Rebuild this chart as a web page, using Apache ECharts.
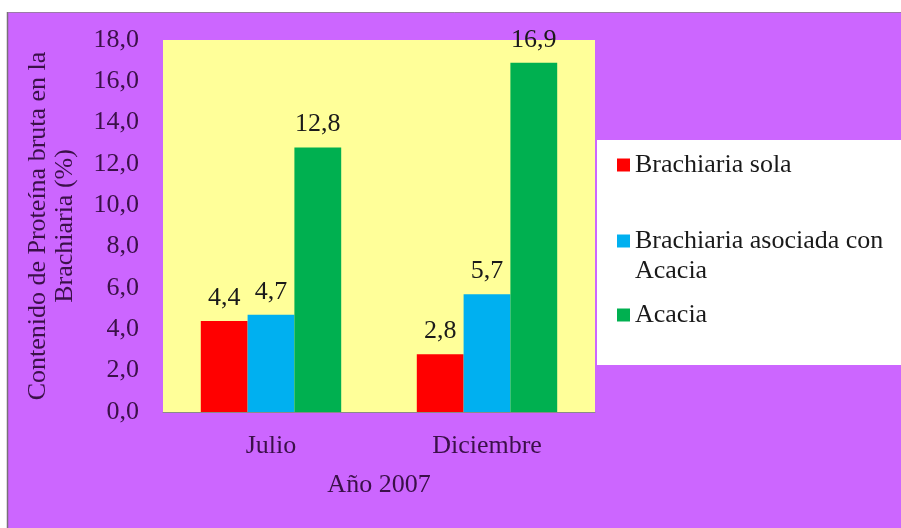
<!DOCTYPE html>
<html>
<head>
<meta charset="utf-8">
<script src="https://cdn.jsdelivr.net/npm/echarts@6/dist/echarts.min.js"></script>
<style>html,body{margin:0;padding:0;background:#fff;}#c{width:901px;height:528px;}</style>
</head>
<body>
<div id="c"></div>
<script>
const categories = ['Julio', 'Diciembre'];
const seriesNames = ['Brachiaria sola', 'Brachiaria asociada con Acacia', 'Acacia'];
const brachiariaSola = [4.4, 2.8];
const brachiariaAsociada = [4.7, 5.7];
const acacia = [12.8, 16.9];
const yTicks = { min: 0, max: 18, interval: 2 };

const FONT = 'Liberation Serif';
const FS = 26;
const AXC = '#3a1048';
const fmt = v => Number(v).toFixed(1).replace('.', ',');
const colors = ['#FF0000', '#00B0F0', '#00B050'];
const values = [brachiariaSola, brachiariaAsociada, acacia];

const chart = echarts.init(document.getElementById('c'), null, { renderer: 'canvas' });
chart.setOption({
  backgroundColor: '#ffffff',
  animation: false,
  graphic: [
    { type: 'rect', left: 8, top: 12, shape: { width: 893, height: 516 }, style: { fill: '#CC66FF' }, z: -10 },
    { type: 'line', shape: { x1: 7.5, y1: 12, x2: 7.5, y2: 528 }, style: { stroke: '#7a6f7a', lineWidth: 1.5 }, z: -9 },
    { type: 'line', shape: { x1: 8, y1: 12.5, x2: 901, y2: 12.5 }, style: { stroke: '#9b7aa8', lineWidth: 1 }, z: -9 },
    { type: 'rect', left: 597, top: 140, shape: { width: 304, height: 225 }, style: { fill: '#ffffff' }, z: -5 }
  ],
  grid: {
    left: 163, top: 40, right: 306, bottom: 116,
    show: true, backgroundColor: '#FFFF99', borderWidth: 0
  },
  legend: [
    { data: [seriesNames[0]], orient: 'vertical', left: 612, top: 146, itemWidth: 13, itemHeight: 13,
      textStyle: { fontFamily: FONT, fontSize: FS, color: '#1a1a1a', lineHeight: 28 }, icon: 'rect' },
    { data: [seriesNames[1]], orient: 'vertical', left: 612, top: 191, itemWidth: 13, itemHeight: 13,
      formatter: () => '\nBrachiaria asociada con\nAcacia',
      textStyle: { fontFamily: FONT, fontSize: FS, color: '#1a1a1a', lineHeight: 30 }, icon: 'rect' },
    { data: [seriesNames[2]], orient: 'vertical', left: 612, top: 296, itemWidth: 13, itemHeight: 13,
      textStyle: { fontFamily: FONT, fontSize: FS, color: '#1a1a1a', lineHeight: 28 }, icon: 'rect' }
  ],
  xAxis: {
    type: 'category',
    data: categories,
    name: 'Año 2007',
    nameLocation: 'middle',
    nameGap: 60,
    nameTextStyle: { fontFamily: FONT, fontSize: FS, color: AXC },
    axisLine: { lineStyle: { color: '#8a8a8a', width: 1 } },
    axisTick: { show: false },
    axisLabel: { fontFamily: FONT, fontSize: FS, color: AXC, margin: 21 }
  },
  yAxis: {
    type: 'value',
    min: yTicks.min, max: yTicks.max, interval: yTicks.interval,
    name: 'Contenido de Proteína bruta en la\nBrachiaria (%)',
    nameLocation: 'middle',
    nameGap: 84,
    nameRotate: 90,
    nameTextStyle: { fontFamily: FONT, fontSize: FS, color: AXC, lineHeight: 27, align: 'center' },
    axisLine: { show: false },
    axisTick: { show: false },
    splitLine: { show: false },
    axisLabel: { fontFamily: FONT, fontSize: FS, color: AXC, margin: 24, formatter: v => fmt(v) }
  },
  series: values.map((vals, i) => ({
    name: seriesNames[i],
    type: 'bar',
    data: vals,
    barGap: '0%',
    barCategoryGap: '35%',
    itemStyle: { color: colors[i] },
    label: {
      show: true, position: 'top', distance: 10,
      fontFamily: FONT, fontSize: FS, color: '#1a1a1a',
      formatter: p => fmt(p.value)
    }
  }))
});
</script>
</body>
</html>
